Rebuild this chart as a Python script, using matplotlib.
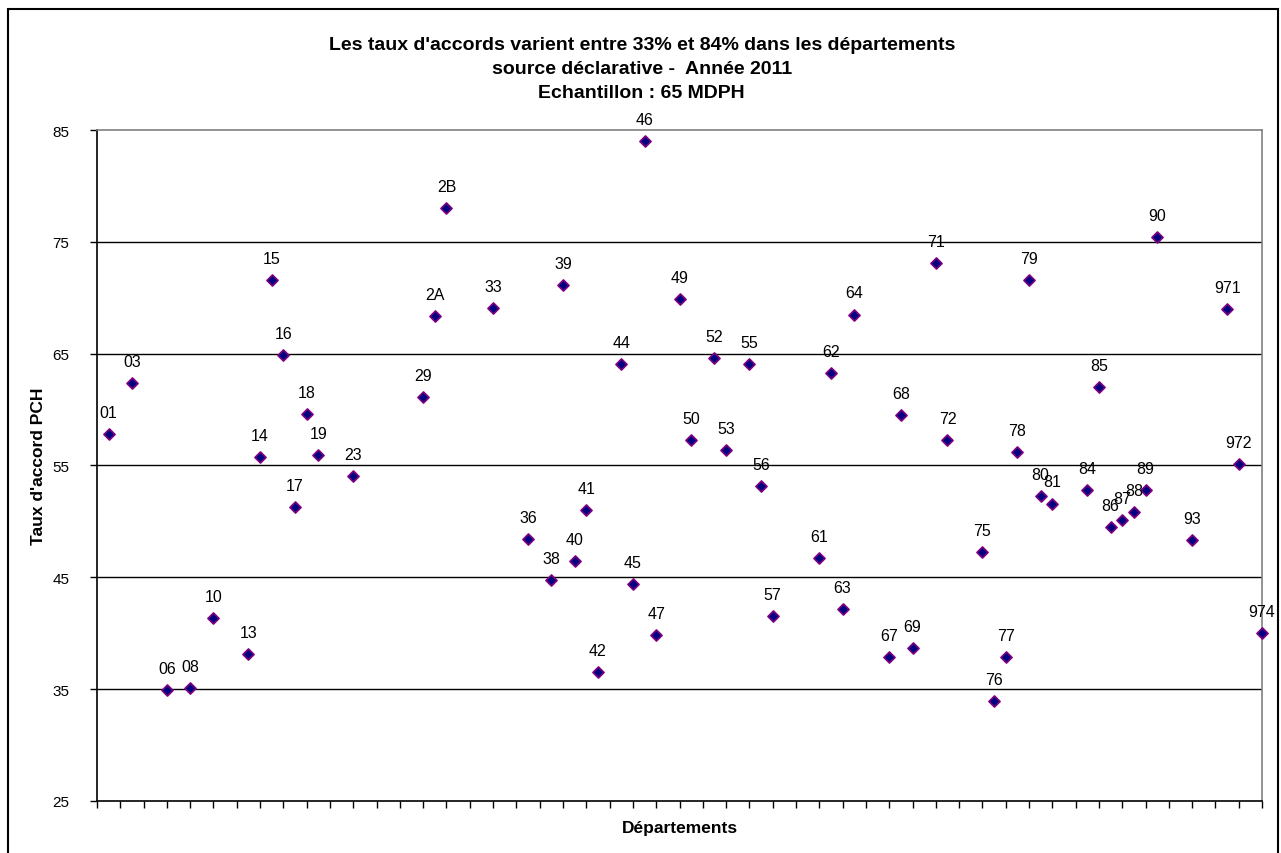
import matplotlib.pyplot as plt
from matplotlib.patches import Rectangle

plt.rcParams['font.family'] = ['Liberation Sans', 'DejaVu Sans']

# departements shown, with their taux d'accord PCH (%)
codes = ['01', '03', '06', '08', '10', '13', '14', '15', '16', '17', '18', '19', '23',
         '29', '2A', '2B', '33', '36', '38', '39', '40', '41', '42', '44', '45', '46',
         '47', '49', '50', '52', '53', '55', '56', '57', '61', '62', '63', '64', '67',
         '68', '69', '71', '72', '75', '76', '77', '78', '79', '80', '81', '84', '85',
         '86', '87', '88', '89', '90', '93', '971', '972', '974']
taux = [57.8, 62.4, 34.9, 35.1, 41.4, 38.1, 55.8, 71.6, 64.9, 51.3, 59.6, 55.9, 54.1,
        61.1, 68.4, 78.0, 69.1, 48.4, 44.8, 71.1, 46.5, 51.0, 36.5, 64.1, 44.4, 84.0,
        39.8, 69.9, 57.3, 64.6, 56.4, 64.1, 53.2, 41.5, 46.7, 63.3, 42.2, 68.5, 37.9,
        59.5, 38.7, 73.1, 57.3, 47.3, 33.9, 37.9, 56.2, 71.6, 52.3, 51.6, 52.8, 62.0,
        49.5, 50.1, 50.8, 52.8, 75.4, 48.3, 69.0, 55.1, 40.0]

# all departements in text order (x position = rank in this list)
all_deps = sorted(['%02d' % i for i in range(1, 96) if i != 20] + ['2A', '2B']
                  + ['971', '972', '973', '974'])
x = [all_deps.index(c) + 1 for c in codes]

fig = plt.figure(figsize=(12.81, 8.54), dpi=100)
ax = fig.add_axes([0.0757, 0.0609, 0.9095, 0.7857])

ax.scatter(x, taux, marker='D', s=32, facecolor='#000080', edgecolor='#800080',
           linewidths=1.2, zorder=3, clip_on=False)
for xi, yi, c in zip(x, taux, codes):
    ax.annotate(c, (xi, yi), xytext=(0, 15.5), textcoords='offset points',
                ha='center', va='center', fontsize=11.5, color='black',
                annotation_clip=False)

ax.set_xlim(0, 100)
ax.set_ylim(25, 85)
ax.set_yticks(range(25, 86, 10))
ax.set_xticks(range(0, 101, 2))
ax.set_xticklabels([])
ax.tick_params(axis='both', direction='out', length=5, width=1, color='black')
ax.tick_params(axis='y', labelsize=11, pad=15)
for v in range(35, 85, 10):
    ax.axhline(v, color='black', lw=1, zorder=1)

for side in ['top', 'right']:
    ax.spines[side].set_color('#808080')
    ax.spines[side].set_linewidth(1.2)
for side in ['left', 'bottom']:
    ax.spines[side].set_color('black')
    ax.spines[side].set_linewidth(1.2)

ax.set_ylabel("Taux d'accord PCH", fontsize=12.5, fontweight='bold', va='center')
ax.set_xlabel('Départements', fontsize=12.5, fontweight='bold', va='center')
ax.yaxis.set_label_coords(-0.0506, 0.5)
ax.xaxis.set_label_coords(0.5, -0.040)

fig.text(0.501, 0.947, "Les taux d'accords varient entre 33% et 84% dans les départements",
         ha='center', va='center', fontsize=14, fontweight='bold')
fig.text(0.501, 0.919, 'source déclarative -  Année 2011',
         ha='center', va='center', fontsize=14, fontweight='bold')
fig.text(0.501, 0.890, 'Echantillon : 65 MDPH',
         ha='center', va='center', fontsize=14, fontweight='bold')

# outer chart border
fig.patches.append(Rectangle((8 / 1281, -0.05), 1270 / 1281, (854 - 10) / 854 + 0.05,
                             transform=fig.transFigure, fill=False,
                             edgecolor='black', lw=1.5))

fig.savefig('out.png', dpi=100)
